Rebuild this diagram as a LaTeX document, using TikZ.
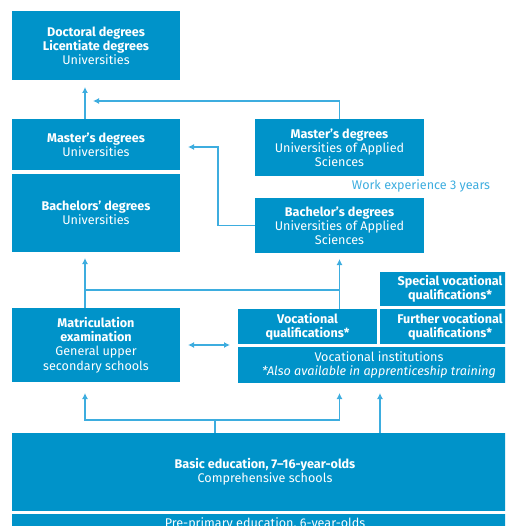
\documentclass[tikz,border=0pt]{standalone}
\usepackage{fontspec}
\setmainfont{Fira Sans}
\usetikzlibrary{arrows.meta}
\definecolor{bleu}{HTML}{0093C9}
\definecolor{bleuclair}{HTML}{3DADDF}
\begin{document}
\begin{tikzpicture}[x=1pt,y=-1pt]
\tikzset{boite/.style={fill=bleu, text=white, align=center, anchor=north west, inner sep=0pt, outer sep=0pt, font=\fontsize{12.6}{14.2}\selectfont},
trait/.style={draw=bleuclair, line width=1.8pt},
fleche/.style={trait, -{Latex[length=6pt,width=6pt]}}}
\useasboundingbox (0,0) rectangle (505,526);
\clip (0,0) rectangle (505,526);
\node[boite, minimum width=168pt, minimum height=69pt] (doc) at (12,11) {\textbf{Doctoral degrees}\\\textbf{Licentiate degrees}\\Universities};
\node[boite, minimum width=168pt, minimum height=51pt] (mu) at (12,119) {\textbf{Master’s degrees}\\Universities};
\node[boite, minimum width=168pt, minimum height=78pt] (bu) at (12,174) {\textbf{Bachelors’ degrees}\\Universities};
\node[boite, minimum width=169pt, minimum height=57pt] (mas) at (255,119) {\textbf{Master’s degrees}\\Universities of Applied\\Sciences};
\node[boite, minimum width=169pt, minimum height=55pt] (bas) at (255,198) {\textbf{Bachelor’s degrees}\\Universities of Applied\\Sciences};
\node[text=bleuclair, font=\fontsize{12.6}{14.2}\selectfont] (travail) at (421,186) {Work experience 3 years};
\node[boite, minimum width=168pt, minimum height=74pt] (mat) at (12,308) {\textbf{Matriculation}\\\textbf{examination}\\General upper\\secondary schools};
\node[boite, minimum width=139pt, minimum height=35pt] (vq) at (238,309) {\textbf{Vocational}\\\textbf{qualifications*}};
\node[boite, minimum width=140pt, minimum height=34pt] (svq) at (380,272) {\textbf{Special vocational}\\\textbf{qualifications*}};
\node[boite, minimum width=140pt, minimum height=35pt] (fvq) at (380,309) {\textbf{Further vocational}\\\textbf{qualifications*}};
\node[boite, minimum width=282pt, minimum height=36pt] (vi) at (238,347) {Vocational institutions\\\textit{*Also available in apprenticeship training}};
\node[boite, minimum width=506pt, minimum height=78pt] (be) at (12,433) {\textbf{Basic education, 7–16-year-olds}\\Comprehensive schools};
\node[boite, minimum width=506pt, minimum height=20pt] (pp) at (12,514) {Pre-primary education, 6-year-olds};
\coordinate (axe) at (85,0);
\coordinate (p1) at (93,101);
\coordinate (p2) at (218,147);
\coordinate (p3) at (85,290);
\coordinate (p4) at (339.5,290);
\coordinate (p5) at (85,420);
\coordinate (p6) at (339.5,420);
\coordinate (p7) at (215,420);
\coordinate (p8) at (380,0);
\draw[fleche, shorten >=7pt] (mu.north -| axe) -- (doc.south -| axe);
\draw[fleche] (mas.north) |- (p1);
\draw[fleche, shorten >=8pt] (bas.west) -| (p2) -- (p2 -| mu.east);
\draw[trait] (mat.north -| p3) -- (p3) -- (p4) -- (vq.north -| p4);
\draw[fleche, shorten >=6pt] (p3) -- (bu.south -| p3);
\draw[fleche, shorten >=6pt] (p4) -- (bas.south);
\draw[trait, {Latex[length=6pt,width=6pt]}-{Latex[length=6pt,width=6pt]}, shorten <=8pt, shorten >=8pt] (mat.east) -- (mat.east -| vq.west);
\draw[trait] (be.north -| p7) -- (p7);
\draw[fleche, shorten >=11pt] (p7) -- (p5) -- (mat.south -| p5);
\draw[fleche, shorten >=10pt] (p7) -- (p6) -- (vi.south -| p6);
\draw[fleche, shorten >=10pt] (be.north -| p8) -- (vi.south -| p8);
\end{tikzpicture}
\end{document}
